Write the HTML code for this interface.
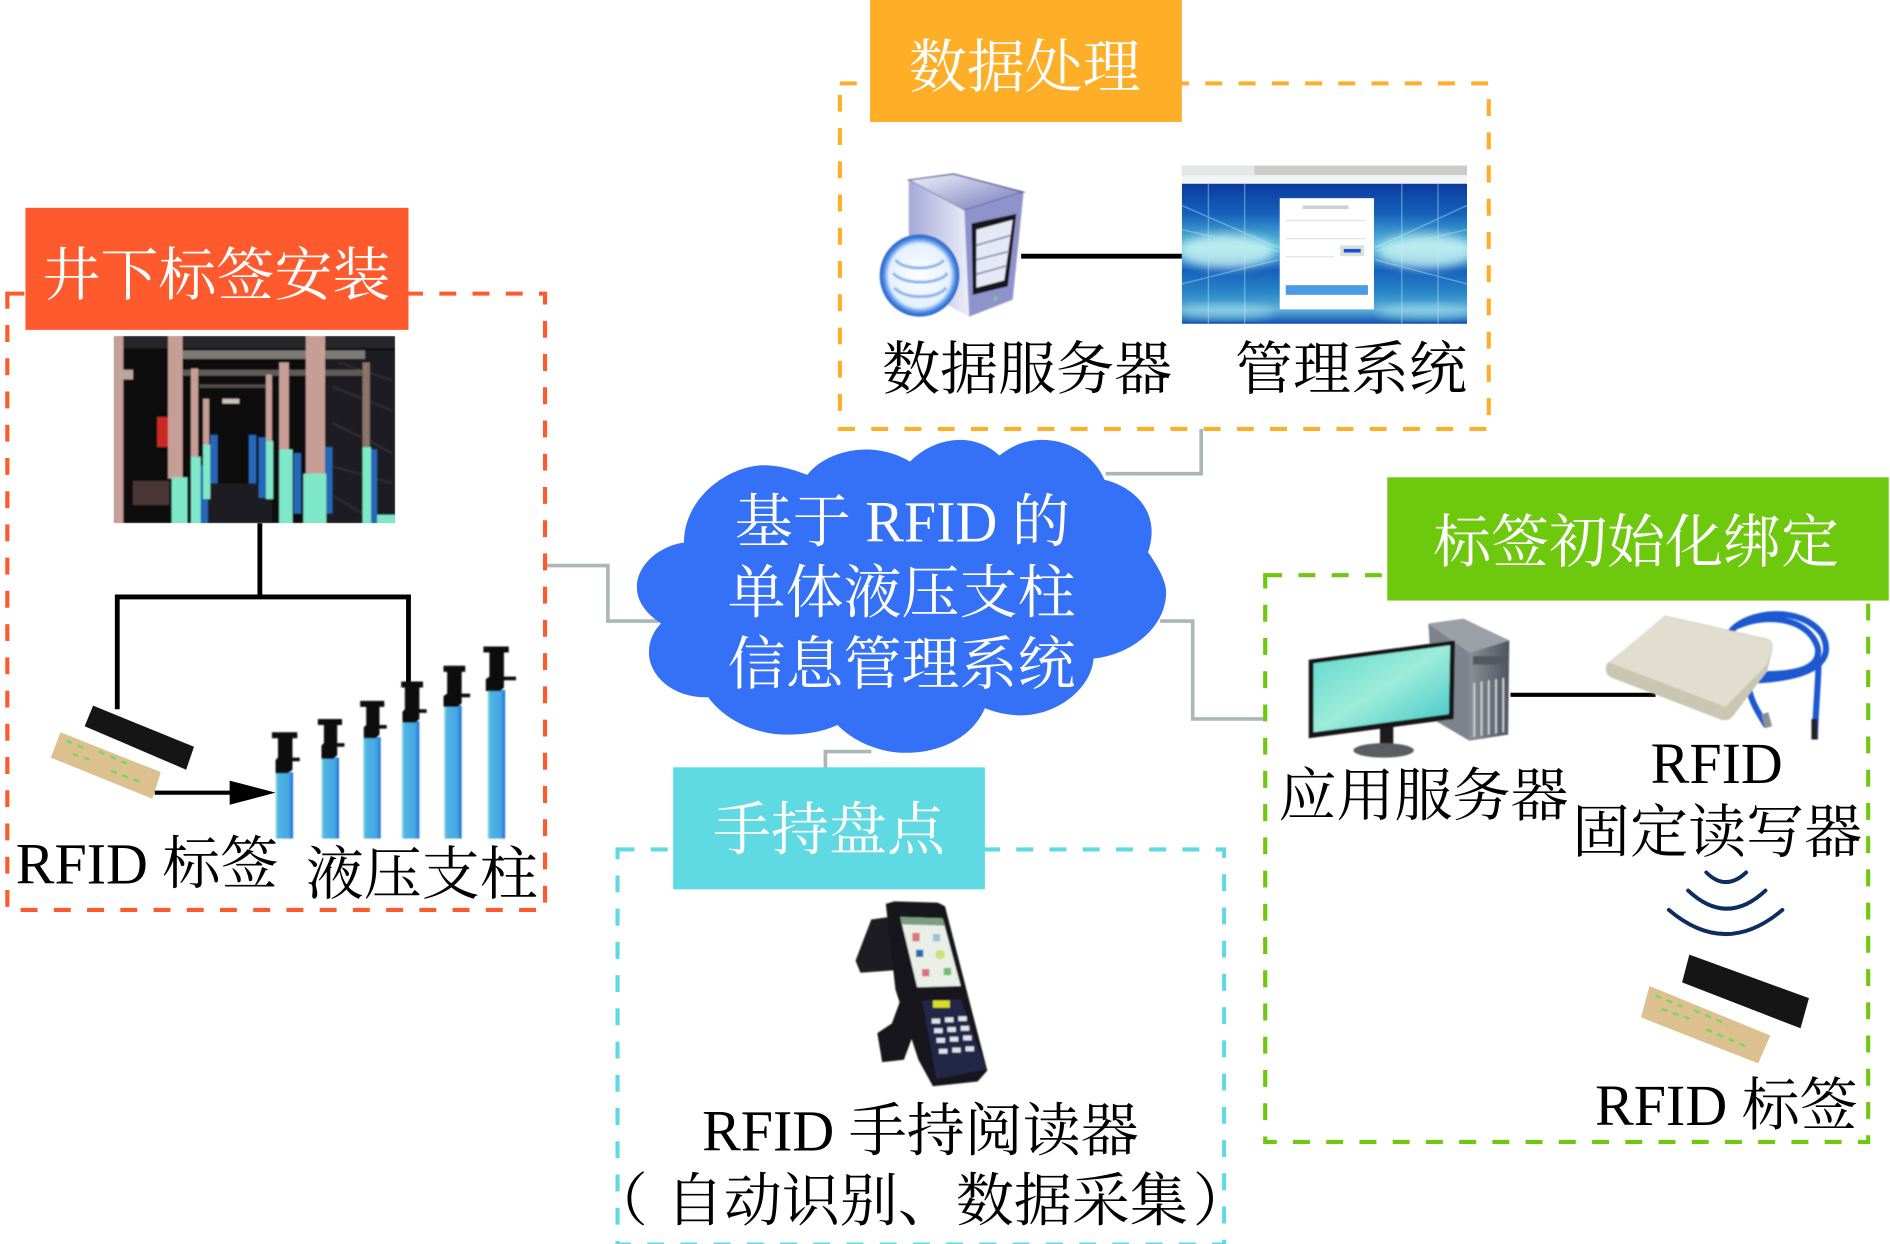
<!DOCTYPE html>
<html lang="zh"><head><meta charset="utf-8"><title>RFID 单体液压支柱信息管理系统</title>
<style>
html,body{margin:0;padding:0;background:#fff;width:1890px;height:1244px;overflow:hidden}
svg{display:block}
text{font-family:"Liberation Serif","Noto Serif CJK SC",serif;font-size:48px;fill:#000}
.w{fill:#fff}
.d{fill:none;stroke-width:3.4;stroke-dasharray:14 13.5}
.g{fill:none;stroke:#a9b7b5;stroke-width:3}
.b{fill:none;stroke:#000;stroke-width:4}
</style></head><body>
<svg width="1890" height="1244" viewBox="0 0 1564 1029.5" xmlns="http://www.w3.org/2000/svg">
<defs>
<filter id="s" x="-5%" y="-5%" width="110%" height="110%"><feGaussianBlur stdDeviation="0.7"/></filter>
<filter id="s3" x="-20%" y="-20%" width="140%" height="140%"><feGaussianBlur stdDeviation="4"/></filter>
<clipPath id="phc"><rect x="94" y="278" width="233" height="155"/></clipPath>
<clipPath id="scc"><rect x="978" y="152" width="236" height="116"/></clipPath>
<linearGradient id="col" x1="0" x2="1" y1="0" y2="0"><stop offset="0" stop-color="#9fe0dc"/><stop offset=".15" stop-color="#4fb4e4"/><stop offset=".75" stop-color="#45a6e2"/><stop offset="1" stop-color="#1c6fd6"/></linearGradient>
<linearGradient id="scr" x1="0" x2="0" y1="0" y2="1"><stop offset="0" stop-color="#0a3a9e"/><stop offset=".22" stop-color="#1663bc"/><stop offset=".45" stop-color="#5fc2dc"/><stop offset=".62" stop-color="#1660bc"/><stop offset=".78" stop-color="#2a88c8"/><stop offset=".9" stop-color="#5cb0d6"/><stop offset="1" stop-color="#0e4fb0"/></linearGradient>
<linearGradient id="tw" x1="0" x2="1" y1="0" y2="1"><stop offset="0" stop-color="#f2f3fb"/><stop offset="1" stop-color="#6f75b8"/></linearGradient>
<linearGradient id="tw2" x1="0" x2="1" y1="0" y2="0"><stop offset="0" stop-color="#a4a9d8"/><stop offset="1" stop-color="#eceef8"/></linearGradient>
<linearGradient id="mon" x1="0" x2="1" y1="0" y2="1"><stop offset="0" stop-color="#5fd7cc"/><stop offset=".5" stop-color="#9cecd9"/><stop offset="1" stop-color="#3fc3c8"/></linearGradient>
<linearGradient id="pc" x1="0" x2="1" y1="0" y2="0"><stop offset="0" stop-color="#8b8f96"/><stop offset="1" stop-color="#4d5560"/></linearGradient>
<radialGradient id="db" cx=".5" cy=".5" r=".52"><stop offset="0" stop-color="#fff"/><stop offset=".74" stop-color="#e4f0ff"/><stop offset=".86" stop-color="#4f8fe4"/><stop offset="1" stop-color="#0a48bc"/></radialGradient>
</defs>

<!-- connectors -->
<path class="g" d="M451 468H503V514H545"/>
<path class="g" d="M994 355V392H915"/>
<path class="g" d="M960 514H987V595H1047"/>
<path class="g" d="M721 622H683V636"/>

<!-- dashed boxes -->
<rect class="d" x="6" y="243" width="445" height="510" stroke="#ff5a2d"/>
<rect class="d" x="695" y="69" width="537" height="286" stroke="#ffae27"/>
<rect class="d" x="1047" y="476" width="499" height="469" stroke="#6ec80e"/>
<rect class="d" x="511" y="703" width="502" height="327" stroke="#5fd9e2"/>

<!-- labels -->
<rect x="21" y="172" width="317" height="101" fill="#ff5a2d"/>
<text class="w" x="35" y="244">井下标签安装</text>
<rect x="720" y="0" width="258" height="101" fill="#ffae27"/>
<text class="w" x="752" y="72">数据处理</text>
<rect x="1148" y="395" width="415" height="102" fill="#6ec80e"/>
<text class="w" x="1186" y="465">标签初始化绑定</text>
<rect x="557" y="635" width="258" height="101" fill="#5fd9e2"/>
<text class="w" x="590" y="703">手持盘点</text>

<!-- cloud -->
<path fill="#3471f7" d="M566 449C566 410 605 385 632 385C645 385 658 389 668 393C680 378 700 372 717 372C730 372 743 376 753 382C765 370 780 364 795 364C808 364 820 370 827 377C838 368 850 364 862 364C888 364 907 380 914 397C938 403 953 420 953 440C953 445 952 452 950 457C957 467 965 480 965 490C965 520 935 542 905 545C903 570 875 592 845 592C835 592 825 590 815 586C805 610 778 623 750 623C725 623 705 612 693 600C680 606 665 608 652 608C625 608 600 596 586 577C558 578 537 560 537 540C537 530 541 522 547 516C535 508 527 498 527 486C527 468 545 452 566 449Z"/>
<text class="w" x="608" y="448">基于 RFID 的</text>
<text class="w" x="602" y="507">单体液压支柱</text>
<text class="w" x="602" y="566">信息管理系统</text>

<!-- mine photo -->
<g clip-path="url(#phc)"><g filter="url(#s)">
<rect x="94" y="278" width="233" height="155" fill="#0b0a0e"/>
<rect x="270" y="290" width="57" height="143" fill="#1c1a20"/>
<g stroke="#2e2c33" stroke-width="2"><path d="M275 320L325 340M275 350L325 375M272 385L325 400M280 300L325 315M275 410L300 425"/></g>
<rect x="100" y="278" width="227" height="10" fill="#26262c"/>
<rect x="150" y="290" width="152" height="7" fill="#7e7a75"/>
<rect x="150" y="306" width="150" height="5" fill="#5f5b58"/>
<rect x="165" y="318" width="60" height="3" fill="#4f4b4a"/>
<rect x="94" y="278" width="8" height="155" fill="#c69f97"/>
<rect x="96" y="306" width="14" height="8" fill="#b9a79d"/>
<rect x="130" y="345" width="18" height="25" fill="#c82a20"/>
<rect x="110" y="398" width="30" height="20" fill="#4a3436"/>
<rect x="184" y="330" width="14" height="4" fill="#c8c4b8"/>
<rect x="165" y="400" width="60" height="33" fill="#1c1e24"/>
<g fill="#c79e96">
<rect x="139" y="278" width="12" height="118"/><rect x="158" y="305" width="6" height="74"/><rect x="168" y="330" width="5" height="40"/>
<rect x="253" y="278" width="16" height="116"/><rect x="231" y="300" width="8" height="72"/><rect x="220" y="310" width="5" height="55"/>
</g>
<rect x="300" y="300" width="6" height="70" fill="#8c7468"/>
<g fill="#2568b8"><rect x="174" y="360" width="6" height="40"/><rect x="206" y="360" width="6" height="40"/><rect x="214" y="362" width="6" height="50"/><rect x="165" y="385" width="7" height="48"/><rect x="243" y="375" width="6" height="50"/><rect x="306" y="372" width="6" height="61"/><rect x="269" y="370" width="6" height="55"/></g>
<g fill="#7fe8c8">
<rect x="142" y="395" width="13" height="38"/><rect x="158" y="378" width="8" height="55"/><rect x="168" y="368" width="6" height="45"/>
<rect x="251" y="392" width="19" height="41"/><rect x="231" y="372" width="11" height="61"/><rect x="220" y="365" width="6" height="48"/>
<rect x="300" y="370" width="7" height="63"/><rect x="312" y="426" width="15" height="7"/>
</g></g>
</g>
<path class="b" d="M215 433V494M97 587V494H338V566"/>

<!-- RFID tag 1 -->
<polygon points="77,584 160.5,618 154,637 70,601" fill="#151515"/>
<polygon points="50,606 133,639 126,661 42,627" fill="#dcc090"/>
<g stroke="#6fdc5a" stroke-width="2" stroke-dasharray="5 5"><path d="M55 613L72 620M82 622L105 632M60 624L78 630M92 638L118 648"/></g>
<path d="M128 656H192" stroke="#000" stroke-width="3.500"/>
<polygon points="190,646 228,656 190,666" fill="#000"/>

<!-- columns -->
<g filter="url(#s)">
<rect x="228" y="639" width="14.500" height="55" fill="url(#col)"/>
<rect x="266" y="627" width="14.500" height="67" fill="url(#col)"/>
<rect x="300.500" y="610" width="14.500" height="84" fill="url(#col)"/>
<rect x="332.500" y="597" width="14.500" height="97" fill="url(#col)"/>
<rect x="367.500" y="584" width="14.500" height="110" fill="url(#col)"/>
<rect x="403.500" y="571" width="14.500" height="123" fill="url(#col)"/>
<g fill="#0d0d0f">
<path d="M225 606H246V611H242V627H248V630H242V637L238 640H228V629L230 627V611H225Z"/>
<path d="M263 595H283V600H279V615H285V618H279V625L276 628H266V617L268 615V600H263Z"/>
<path d="M298 580H318V585H314V600H320V603H314V608L311 611H301V602L303 600V585H298Z"/>
<path d="M332 564H350V569H347V587H353V590H347V595L344 598H333V589L335 587V569H332Z"/>
<path d="M367 551H385V556H382V574H389V577H382V582L379 585H367V576L370 574V556H367Z"/>
<path d="M400 535H421V540H417V560H427V563H417V569L414 572H402V562L405 560V540H400Z"/>
</g>
</g>
<text x="13" y="731">RFID 标签</text>
<text x="253" y="740">液压支柱</text>

<!-- data server -->
<g filter="url(#s)">
<polygon points="752,149 789,144 847,159 798,174" fill="url(#tw)" stroke="#4a4f90" stroke-width="1"/>
<polygon points="752,149 798,174 802,262 752,235" fill="url(#tw2)"/>
<polygon points="798,174 847,159 838,248 802,262" fill="#8f93cc"/>
<polygon points="804,185 841,177 834,237 805,244" fill="#15161f"/>
<polygon points="808,190 838,182 831,232 808,238" fill="#e6e8f6"/>
<path d="M808 203L836 195M808 215L835 208M808 227L833 220" stroke="#8f93b8" stroke-width="1.500"/>
<circle cx="824" cy="247" r="1.500" fill="#6fdc5a"/>
<ellipse cx="761" cy="228" rx="33" ry="34" fill="url(#db)"/>
<g fill="none" stroke="#8fb8ec" stroke-width="2.500"><path d="M741 215c6 9 34 9 40 0"/><path d="M739 226c8 10 38 10 45 0"/><path d="M740 238c8 10 36 10 43 0"/></g>
</g>
<path d="M845 212H978" stroke="#000" stroke-width="4"/>

<!-- management screenshot -->
<rect x="978" y="137" width="236" height="8" fill="#c9cdc9"/>
<rect x="978" y="137" width="60" height="8" fill="#e4e6e8"/>
<rect x="978" y="145" width="236" height="7" fill="#f2f3f4"/>
<g clip-path="url(#scc)">
<rect x="978" y="152" width="236" height="116" fill="url(#scr)"/>
<ellipse cx="1015" cy="208" rx="40" ry="14" fill="#d6fbf6" opacity=".75" filter="url(#s3)"/>
<ellipse cx="1180" cy="208" rx="40" ry="14" fill="#d6fbf6" opacity=".75" filter="url(#s3)"/>
<ellipse cx="1015" cy="258" rx="40" ry="6" fill="#a8e4ec" opacity=".6" filter="url(#s3)"/>
<ellipse cx="1180" cy="258" rx="40" ry="6" fill="#a8e4ec" opacity=".6" filter="url(#s3)"/>
<g stroke="#bdeef0" stroke-opacity=".4" stroke-width="1.200"><path d="M978 170L1058 205M978 235L1058 215M1214 170L1138 205M1214 235L1138 215M978 190L1058 208M1214 190L1138 208M1030 152V268M1160 152V268M1000 152V268M1190 152V268"/></g>
</g>
<rect x="1059" y="164" width="78" height="92" fill="#fff"/>
<g fill="#dfe3e6"><rect x="1064" y="182" width="66" height="1"/><rect x="1064" y="197" width="66" height="1"/><rect x="1064" y="212" width="40" height="1"/></g>
<rect x="1078" y="170" width="38" height="3" fill="#ccd0d4"/>
<rect x="1109" y="203" width="20" height="9" fill="#d9e4d6"/><rect x="1112" y="206" width="14" height="3" fill="#1c4fe0"/>
<rect x="1064" y="236" width="68" height="8" fill="#4a9ae8"/>

<text x="730" y="322">数据服务器</text>
<text x="1022" y="322">管理系统</text>

<!-- desktop -->
<g filter="url(#s)">
<polygon points="1182,516 1211,512 1249,530 1216,540" fill="#9aa0a6"/>
<polygon points="1182,516 1216,540 1216,613 1187,596" fill="#7d838c"/>
<polygon points="1216,540 1249,530 1248,608 1216,613" fill="url(#pc)"/>
<g stroke="#cfd3d8" stroke-width="1.500"><path d="M1220 565V610M1226 564V609M1232 563V608M1238 562V607M1244 561V606"/></g>
<rect x="1219" y="543" width="27" height="7" fill="#53585f"/>
<rect x="1142" y="600" width="11" height="18" fill="#1a1a1c"/>
<ellipse cx="1145" cy="621" rx="25" ry="6" fill="#5a5d62"/>
<polygon points="1083,546 1204,530 1203,595 1083,611" fill="#141518"/>
<polygon points="1087,549 1200,534 1199,591 1087,606" fill="url(#mon)"/>
</g>
<path d="M1250 575H1370" stroke="#000" stroke-width="3.500"/>

<!-- reader -->
<g filter="url(#s)">
<g fill="none" stroke="#1d58cf" stroke-width="5">
<path d="M1432 523C1445 506 1490 500 1508 525C1518 545 1505 560 1455 563"/>
<path d="M1438 518C1460 508 1495 510 1504 535C1508 552 1490 558 1458 558"/>
<path d="M1450 560C1442 570 1455 590 1462 601"/>
<path d="M1505 545C1505 565 1502 590 1502 612"/>
</g>
<rect x="1459" y="590" width="6" height="12" fill="#8c8f95" transform="rotate(-15 1462 596)"/>
<rect x="1499" y="595" width="5" height="17" fill="#20242c"/>
<path d="M1378 510L1462 529Q1468 531 1466 538L1462 555L1434 592Q1430 597 1424 595L1333 560Q1328 557 1330 550Z" fill="#c9c6b2" stroke="#c9c6b2" stroke-width="1"/>
<path d="M1378 510L1462 529Q1468 531 1466 538L1462 550L1428 585L1331 548Z" fill="#e1ded0"/>
</g>

<text x="1366" y="648">RFID</text>
<text x="1058" y="675">应用服务器</text>
<text x="1301" y="705">固定读写器</text>

<!-- waves -->
<g fill="none" stroke="#0e2c5e" stroke-width="3.200" stroke-linecap="round">
<path d="M1412 722Q1428 738 1445 722"/>
<path d="M1397 737Q1429 767 1461 737"/>
<path d="M1381 753Q1428 793 1475 753"/>
</g>
<!-- RFID tag 2 -->
<polygon points="1398,790 1497,826 1490,851 1392,813" fill="#151515"/>
<polygon points="1365,816 1465,857 1455,880 1358,842" fill="#dcc090"/>
<g stroke="#6fdc5a" stroke-width="2" stroke-dasharray="5 5"><path d="M1370 824L1392 833M1402 836L1430 848M1375 835L1398 843M1412 852L1445 866"/></g>
<text x="1320" y="931">RFID 标签</text>

<!-- handheld -->
<g filter="url(#s)">
<polygon points="721,761 735,759 740,803 712,805 708,795" fill="#1b1a24"/>
<polygon points="745,828 758,850 748,877 730,879 726,855 738,847" fill="#16151c"/>
<polygon points="733,748 740,746 776,747 782,750 817,886 809,895 772,899 760,877 741,819" fill="#17161e"/>
<polygon points="745,759 780,760 795,816 759,817" fill="#e9efe6"/>
<polygon points="745,759 780,760 782,766 746,765" fill="#7d9d80"/>
<g><rect x="755" y="772" width="6" height="7" fill="#d87878"/><rect x="772" y="773" width="6" height="6" fill="#9cc2d4"/><rect x="758" y="786" width="6" height="6" fill="#2a6cb0"/><circle cx="778" cy="790" r="4" fill="#cfe07a"/><rect x="763" y="802" width="6" height="6" fill="#d8708c"/><rect x="781" y="801" width="6" height="6" fill="#6dbb70"/></g>
<polygon points="763,828 795,827 816,885 775,893" fill="#242646"/>
<rect x="772" y="828" width="14" height="6" fill="#d8dc2a"/>
<g fill="#dfe3ea"><rect x="771" y="843" width="7" height="4"/><rect x="782" y="842" width="7" height="4"/><rect x="793" y="841" width="7" height="4"/><rect x="773" y="851" width="7" height="4"/><rect x="784" y="850" width="7" height="4"/><rect x="795" y="849" width="7" height="4"/><rect x="775" y="859" width="7" height="4"/><rect x="786" y="858" width="7" height="4"/><rect x="797" y="857" width="7" height="4"/><rect x="777" y="868" width="7" height="4"/><rect x="788" y="867" width="7" height="4"/><rect x="799" y="866" width="7" height="4"/></g>
</g>

<text x="581" y="952">RFID 手持阅读器</text>
<text x="488" y="1010">（</text>
<text x="551" y="1010">自动识别、数据采集</text>
<text x="987" y="1010">）</text>
</svg>
</body></html>
